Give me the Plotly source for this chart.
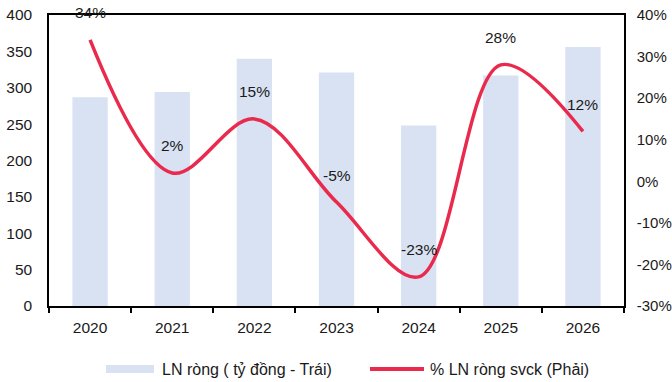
import plotly.graph_objects as go

# Chart data
years = ["2020", "2021", "2022", "2023", "2024", "2025", "2026"]
net_profit = [287, 294, 340, 321, 248, 317, 356]          # tỷ đồng (left axis)
growth_pct = [34, 2, 15, -5, -23, 28, 12]                 # % yoy (right axis)
pct_ticks = [-30, -20, -10, 0, 10, 20, 30, 40]

bar_name = "LN ròng ( tỷ đồng - Trái)"
line_name = "% LN ròng svck (Phải)"

BAR_COLOR = "#D9E2F3"
LINE_COLOR = "#EA2A4C"
FONT = "Liberation Sans, Arial, sans-serif"
TEXT_COLOR = "#1a1a1a"
TICK_SIZE = 15.5

W, H = 672, 382
M_L, M_R, M_T, M_B = 49, 48, 15, 76
PW, PH = W - M_L - M_R, H - M_T - M_B


def px_x(x):
    return (x - M_L) / PW


def px_y(y):
    return (H - M_B - y) / PH


fig = go.Figure()
fig.add_trace(go.Bar(
    x=years, y=net_profit, name=bar_name,
    marker=dict(color=BAR_COLOR, line=dict(width=0)),
    width=0.43, showlegend=False, yaxis="y",
))
fig.add_trace(go.Scatter(
    x=years, y=growth_pct, name=line_name, mode="lines",
    line=dict(color=LINE_COLOR, width=3.5, shape="spline", smoothing=1.0),
    showlegend=False, yaxis="y2",
))

# Value labels above the growth line (category index positions)
annotations = []
for i, v in enumerate(growth_pct):
    annotations.append(dict(
        x=i, y=v, xref="x", yref="y2", text=f"{v}%", showarrow=False,
        yshift=27, font=dict(family=FONT, size=TICK_SIZE, color=TEXT_COLOR),
    ))

# Custom legend below the plot
shapes = [
    dict(type="rect", xref="paper", yref="paper",
         x0=px_x(106), x1=px_x(154), y0=px_y(373), y1=px_y(365),
         fillcolor=BAR_COLOR, line=dict(width=0)),
    dict(type="line", xref="paper", yref="paper",
         x0=px_x(370), x1=px_x(424), y0=px_y(369), y1=px_y(369),
         line=dict(color=LINE_COLOR, width=4)),
]
annotations.append(dict(
    x=px_x(160), y=px_y(369), xref="paper", yref="paper", text=bar_name,
    showarrow=False, xanchor="left", yanchor="middle",
    font=dict(family=FONT, size=16, color=TEXT_COLOR),
))
annotations.append(dict(
    x=px_x(428), y=px_y(369), xref="paper", yref="paper", text=line_name,
    showarrow=False, xanchor="left", yanchor="middle",
    font=dict(family=FONT, size=16, color=TEXT_COLOR),
))

fig.update_layout(
    width=W, height=H,
    margin=dict(l=M_L, r=M_R, t=M_T, b=M_B),
    paper_bgcolor="white", plot_bgcolor="white",
    font=dict(family=FONT, size=TICK_SIZE, color=TEXT_COLOR),
    xaxis=dict(
        type="category", range=[-0.5, len(years) - 0.5], automargin=False,
        showgrid=False, zeroline=False,
        showline=True, linecolor="black", linewidth=2, mirror=True,
        ticks="outside", tickson="boundaries", ticklen=5, tickcolor="black",
        tickwidth=1.5, ticklabelstandoff=6, tickangle=0,
    ),
    yaxis=dict(
        range=[0, 400], dtick=50, showgrid=False, zeroline=False,
        automargin=False,
        showline=True, linecolor="black", linewidth=1.5,
        ticks="", ticklabelstandoff=12,
    ),
    yaxis2=dict(
        range=[-30, 40], tickvals=pct_ticks,
        ticktext=[f"{t}%" for t in pct_ticks],
        tickfont=dict(size=15),
        overlaying="y", side="right", automargin=False,
        showgrid=False, zeroline=False,
        showline=True, linecolor="black", linewidth=1.5,
        ticks="", ticklabelstandoff=8,
    ),
    shapes=shapes,
    annotations=annotations,
)

fig.write_html("out.html")
